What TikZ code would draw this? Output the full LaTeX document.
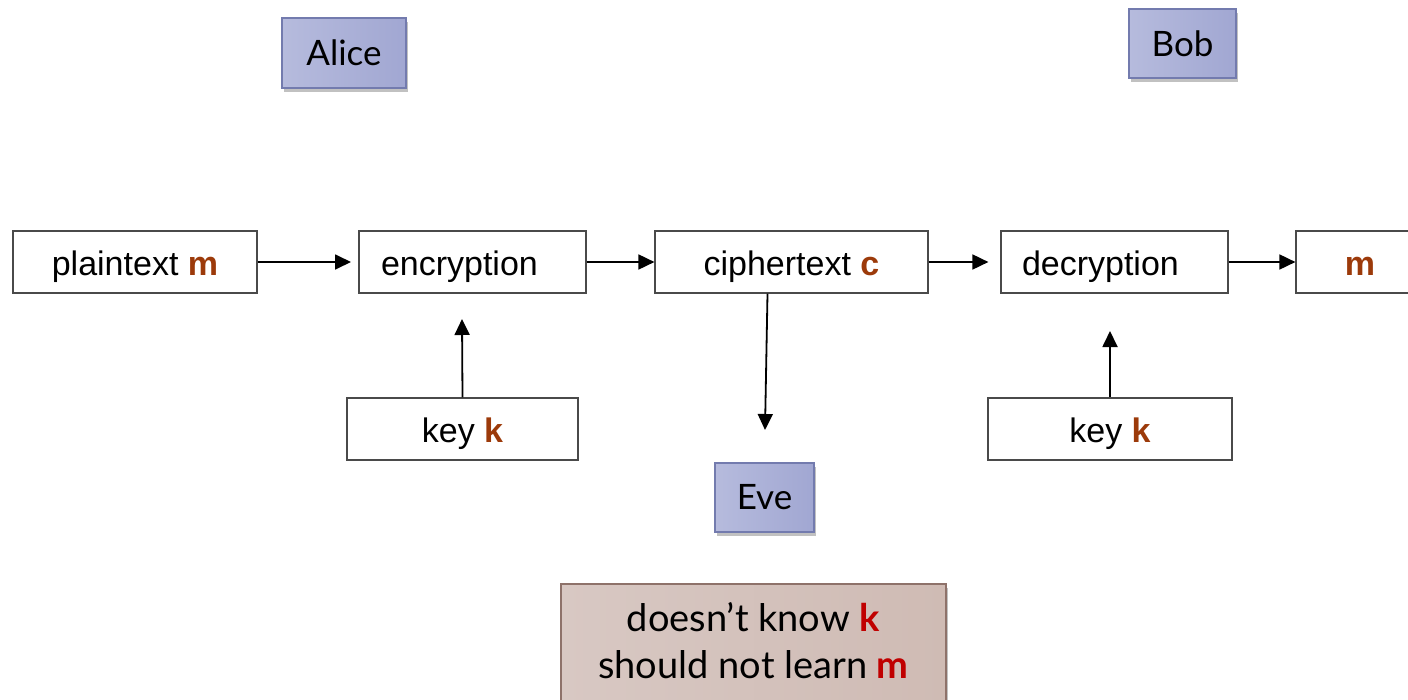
\documentclass[tikz,border=0pt]{standalone}
\usepackage{fontspec}
\setmainfont{Liberation Sans}
\newfontfamily\gillfont{Lato}
\usetikzlibrary{arrows.meta,shadows}
\definecolor{varcol}{HTML}{9C3A0A}
\definecolor{redcol}{HTML}{C00000}
\definecolor{persfillA}{HTML}{B6BBDD}
\definecolor{persfillB}{HTML}{A1A7D2}
\definecolor{persborder}{HTML}{737BAE}
\definecolor{notefillA}{HTML}{D8C8C3}
\definecolor{notefillB}{HTML}{C2AAA2}
\definecolor{notefillC}{HTML}{CFBBB4}
\definecolor{noteborder}{HTML}{8E726A}
\definecolor{boxborder}{HTML}{4A4A4A}
\tikzset{
  stepbox/.style={draw=boxborder, line width=1.2pt, fill=white, rectangle, inner sep=0pt,
    minimum height=62pt, text height=26pt, text depth=0pt, font=\fontsize{34}{40}\selectfont},
  person/.style={draw=persborder, line width=1.5pt, rectangle, inner sep=0pt,
    left color=persfillA, right color=persfillB,
    drop shadow={shadow xshift=2pt, shadow yshift=-4pt, opacity=0.35, fill=black!70},
    font=\gillfont\fontsize{35}{40}\selectfont},
  note/.style={draw=noteborder, line width=1.5pt, rectangle, inner xsep=0pt, inner ysep=19pt,
    left color=notefillA, middle color=notefillB, right color=notefillC,
    drop shadow={shadow xshift=2pt, shadow yshift=-4pt, opacity=0.35, fill=black!70},
    align=center, minimum width=385pt, text depth=40pt,
    font=\gillfont\fontsize{38}{47}\selectfont},
  flow/.style={line width=1.8pt, -{Triangle[length=16pt,width=15pt]}}
}
\begin{document}
\begin{tikzpicture}[x=1pt,y=-1pt]
\useasboundingbox (0,0) rectangle (1408,699);
\clip (0,0) rectangle (1408,699);
% persons
\node[person, minimum width=124pt, minimum height=70pt] (alice) at (344,53) {Alice};
\node[person, minimum width=107pt, minimum height=69pt] (bob) at (1182.5,43.5) {Bob};
\node[person, minimum width=99pt, minimum height=69pt] (eve) at (764.5,497.5) {Eve};
% flow boxes
\node[stepbox, minimum width=244pt] (plain) at (135,262) {plaintext \textcolor{varcol}{\textbf{m}}};
\node[stepbox, inner xsep=22pt, text width=183pt, align=left] (enc) at (472.5,262) {encryption};
\node[stepbox, minimum width=273pt] (cipher) at (791.5,262) {ciphertext \textcolor{varcol}{\textbf{c}}};
\node[stepbox, inner xsep=21pt, text width=185pt, align=left] (dec) at (1114.5,262) {decryption};
\node[stepbox, minimum width=128pt] (mout) at (1360,262) {\textcolor{varcol}{\textbf{m}}};
\node[stepbox, minimum width=231pt] (keyA) at (462.5,429) {key \textcolor{varcol}{\textbf{k}}};
\node[stepbox, minimum width=244pt] (keyB) at (1110,429) {key \textcolor{varcol}{\textbf{k}}};
% note
\node[note, anchor=north] (note) at (753.5,583) {doesn’t know \textcolor{redcol}{\textbf{k}}\\should not learn \textcolor{redcol}{\textbf{m}}};
% arrows
\coordinate (encin) at (351,262);
\coordinate (keyAtip) at (462,319);
\coordinate (keyBtip) at (1110,331);
\coordinate (evetip) at (765,430);
\draw[flow] (plain.east) -- (encin);
\draw[flow] (enc.east) -- (cipher.west);
\draw[flow] (cipher.east) -- ([xshift=-12pt]dec.west);
\draw[flow] (dec.east) -- (mout.west);
\draw[flow] (keyA.north) -- (keyAtip);
\draw[flow] (keyB.north) -- (keyBtip);
\draw[flow] ([xshift=-24pt]cipher.south) -- (evetip);
\end{tikzpicture}
\end{document}
